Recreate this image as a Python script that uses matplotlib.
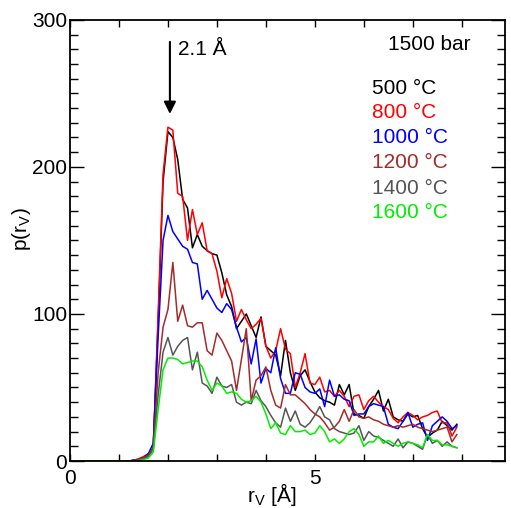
import matplotlib
matplotlib.use("Agg")
import matplotlib.pyplot as plt
from matplotlib.ticker import MultipleLocator, FixedLocator

plt.rcParams['font.family'] = ['Liberation Sans', 'DejaVu Sans']

r = [0.0, 1.2, 1.3, 1.4, 1.5, 1.6, 1.7, 1.8, 1.9,
     2.0, 2.1, 2.2, 2.3, 2.4, 2.5, 2.6, 2.7, 2.8, 2.9,
     3.0, 3.1, 3.2, 3.3, 3.4, 3.5, 3.6, 3.7, 3.8, 3.9,
     4.0, 4.1, 4.2, 4.3, 4.4, 4.5, 4.6, 4.7, 4.8, 4.9,
     5.0, 5.1, 5.2, 5.3, 5.4, 5.5, 5.6, 5.7, 5.8, 5.9,
     6.0, 6.1, 6.2, 6.3, 6.4, 6.5, 6.6, 6.7, 6.8, 6.9,
     7.0, 7.1, 7.2, 7.3, 7.4, 7.5, 7.6, 7.7, 7.8, 7.9]

p_500 = [0, 0, 0.5, 1, 2, 4, 9, 95, 190,
         224, 220, 205, 178, 172, 145, 154, 146, 143, 141,
         140, 128, 113, 105, 90, 95, 100, 92, 84, 98,
         78, 75, 72, 58, 82, 60, 48, 58, 62, 54,
         47, 43, 41, 40, 38, 52, 45, 52, 32, 31,
         29, 37, 42, 48, 34, 42, 30, 28, 27, 32,
         30, 31, 22, 16, 19, 21, 27, 24, 21, 25]

p_800 = [0, 0, 0.5, 1.5, 3, 5, 8, 100, 195,
         227, 225, 182, 180, 150, 171, 154, 162, 143, 141,
         129, 111, 124, 114, 95, 103, 96, 90, 93, 97,
         78, 70, 75, 90, 76, 73, 50, 60, 73, 53,
         52, 57, 47, 48, 44, 48, 44, 37, 44, 45,
         35, 41, 44, 40, 37, 35, 29, 26, 30, 33,
         31, 28, 30, 31, 33, 34, 26, 26, 17, 23]

p_1000 = [0, 0, 0.5, 1, 2, 5, 12, 85, 150,
          167, 156, 151, 146, 144, 135, 134, 110, 116, 110,
          104, 101, 107, 103, 91, 81, 84, 66, 83, 53,
          63, 60, 77, 56, 46, 46, 60, 59, 50, 47,
          46, 49, 37, 55, 44, 45, 42, 41, 31, 32,
          32, 37, 39, 38, 37, 25, 23, 22, 27, 33,
          23, 25, 26, 14, 24, 27, 30, 27, 22, 24]

p_1200 = [0, 0, 0.3, 1, 2, 4, 9, 60, 91,
          103, 135, 95, 106, 92, 91, 94, 94, 75, 72,
          87, 82, 75, 68, 48, 69, 90, 41, 55, 58,
          64, 48, 38, 36, 52, 45, 45, 42, 39, 35,
          32, 30, 26, 21, 23, 27, 35, 27, 35, 30,
          29, 30, 28, 27, 25, 24, 23, 24, 23, 24,
          25, 23, 22, 21, 20, 21, 22, 23, 13, 18]

p_1400 = [0, 0, 0.3, 0.5, 1.5, 3, 8, 45, 74,
          84, 72, 78, 82, 84, 62, 74, 53, 51, 46,
          57, 51, 50, 52, 40, 38, 40, 39, 48, 41,
          37, 31, 26, 23, 36, 27, 34, 25, 23, 26,
          31, 37, 30, 28, 22, 20, 19, 18, 19, 24,
          14, 20, 17, 16, 14, 12, 10, 15, 9, 13,
          12, 10, 8, 18, 12, 14, 10, 13, 10, 9]

p_1600 = [0, 0, 0, 0.3, 1, 2, 6, 35, 62,
          70, 70, 69, 66, 67, 68, 68, 64, 55, 48,
          53, 51, 46, 47, 46, 42, 40, 41, 44, 40,
          32, 22, 26, 19, 18, 24, 20, 20, 21, 18,
          19, 24, 20, 13, 15, 12, 15, 20, 22, 18,
          10, 13, 13, 17, 12, 14, 12, 10, 12, 13,
          12, 11, 9, 18, 14, 14, 11, 11, 10, 9]

labels = ['500 °C', '800 °C', '1000 °C', '1200 °C', '1400 °C', '1600 °C']
series = [p_500, p_800, p_1000, p_1200, p_1400, p_1600]
colors = ['#000000', '#ff0000', '#0000ff', '#a52a2a', '#555555', '#00ee00']

fig = plt.figure(figsize=(5.11, 5.08), dpi=100)
ax = fig.add_axes([0.137, 0.0925, 0.851, 0.8685])

for y, c in zip(series, colors):
    ax.plot(r, y, color=c, lw=1.1)

ax.set_xlim(0, 8.88)
ax.set_ylim(0, 300)

ax.xaxis.set_major_locator(FixedLocator([0, 1, 2, 3, 4, 5, 6, 7, 8]))
ax.set_xticklabels(['0', '', '', '', '', '5', '', '', ''])
ax.yaxis.set_major_locator(MultipleLocator(100))
ax.yaxis.set_minor_locator(MultipleLocator(10))

ax.tick_params(axis='both', which='both', direction='in', top=True, right=True,
               labelsize=15, width=1.0)
ax.tick_params(axis='x', which='major', length=5, pad=6)
ax.tick_params(axis='y', which='major', length=10, pad=2)
ax.tick_params(axis='y', which='minor', length=6)
for s in ax.spines.values():
    s.set_linewidth(1.3)

ax.set_xlabel('r$_\\mathregular{V}$ [Å]', fontsize=15)
ax.xaxis.set_label_coords(0.464, -0.046)
ax.set_ylabel('p(r$_\\mathregular{V}$)', fontsize=15)
ax.yaxis.set_label_coords(-0.085, 0.526)

ax.annotate('', xy=(2.04, 236), xytext=(2.04, 285),
            arrowprops=dict(arrowstyle='-|>', color='black', lw=1.5,
                            mutation_scale=18, shrinkA=0, shrinkB=0))
ax.text(2.2, 280, '2.1 Å', fontsize=15, ha='left', va='center')

ax.text(6.49, 283, '1500 bar', fontsize=15, ha='left', va='center')
legend_y = [253, 237, 220, 203, 185, 169]
for lab, c, yy in zip(labels, colors, legend_y):
    ax.text(6.16, yy, lab, fontsize=15, color=c, ha='left', va='center')

fig.savefig('out.png', dpi=100)
